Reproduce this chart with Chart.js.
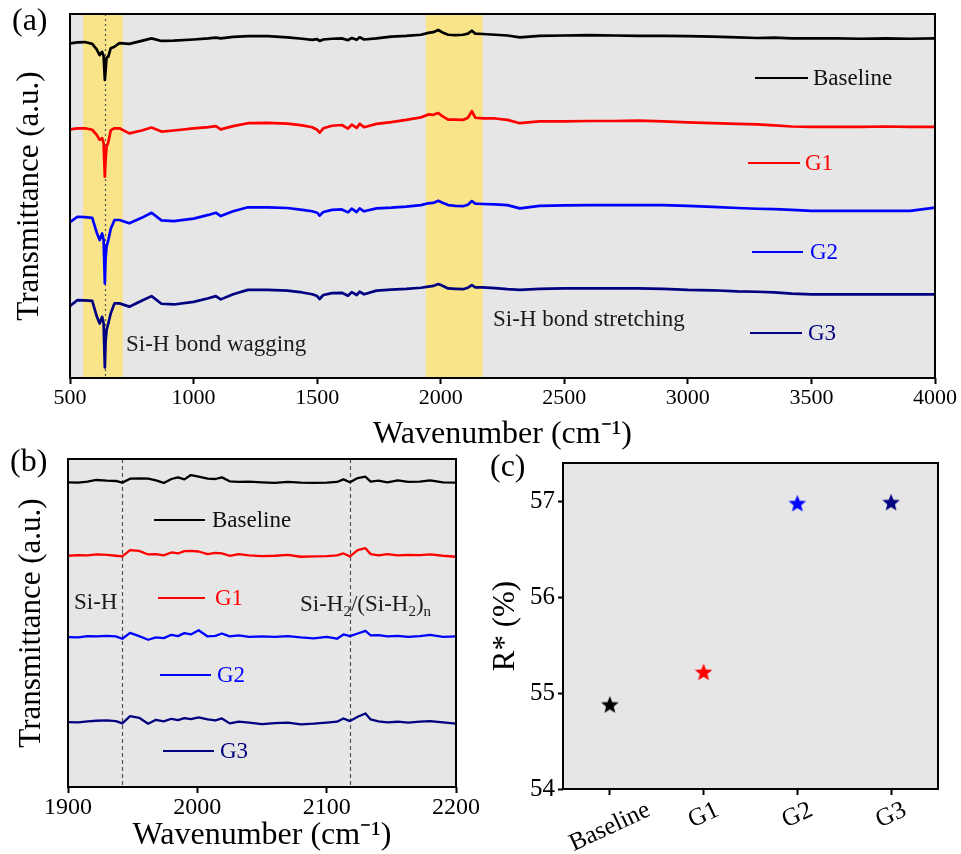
<!DOCTYPE html>
<html><head><meta charset="utf-8">
<script src="https://cdn.jsdelivr.net/npm/chart.js@4.4.0/dist/chart.umd.min.js"></script>
<style>
html,body{margin:0;padding:0;background:#fff;}
#wrap{position:relative;width:961px;height:854px;overflow:hidden;}
canvas{position:absolute;}
</style></head><body>
<div id="wrap">
<canvas id="ca" width="961" height="454" style="left:0;top:0"></canvas>
<canvas id="cb" width="480" height="409" style="left:0;top:445px"></canvas>
<canvas id="cc" width="481" height="409" style="left:480px;top:445px"></canvas>
</div>
<script>
// ---------- DATA ----------
const seriesNames = ['Baseline', 'G1', 'G2', 'G3'];

// Panel (a): full FTIR spectra (wavenumber, cm-1) – transmittance in arbitrary units (offset traces)
const wnA = [500,530,560,590,608,620,630,636,641,644,648,655,665,680,700,740,790,830,870,920,1000,1060,1090,1110,1160,1220,1300,1380,1440,1480,1500,1510,1525,1560,1600,1625,1640,1660,1672,1690,1740,1800,1860,1920,1950,1970,1990,2005,2030,2060,2090,2110,2126,2140,2170,2220,2270,2320,2400,2500,2600,2700,2800,2900,3000,3100,3200,3280,3350,3420,3500,3600,3700,3800,3900,4000];
const baselineA = [91.9,92.2,92.3,91.8,90.3,88.7,89.6,88.5,81.9,84.5,88.0,88.3,90.6,91.0,92.0,91.8,92.6,93.3,92.6,92.7,93.0,93.3,93.5,93.3,93.7,93.9,93.9,93.6,93.2,92.9,93.1,92.6,93.0,93.2,93.3,92.8,93.4,92.9,93.6,93.0,93.3,93.8,94.0,94.3,94.8,95.0,95.6,95.0,94.3,94.2,94.3,94.6,95.4,94.6,94.5,94.3,94.1,93.6,94.0,94.1,94.2,94.1,94.0,94.0,93.9,93.8,93.6,93.4,93.5,93.3,93.3,93.3,93.2,93.3,93.2,93.3];
const g1A = [68.3,68.6,68.6,68.2,66.8,65.4,65.9,64.5,55.3,60.0,63.5,64.8,68.1,68.6,68.6,67.2,68.0,68.8,67.7,68.0,68.6,68.9,69.2,68.3,69.2,70.0,70.1,69.9,69.4,68.9,68.2,67.4,68.6,69.3,69.5,68.5,69.6,68.7,69.8,68.9,69.8,70.3,70.9,71.6,72.4,72.3,72.8,72.0,71.0,71.0,70.9,71.5,73.3,71.5,71.3,71.3,70.9,70.0,70.5,70.5,70.6,70.6,70.7,70.5,70.2,70.0,69.8,69.7,69.4,69.1,69.0,69.0,69.0,69.1,69.0,69.0];
const g2A = [42.8,44.3,44.2,44.0,40.0,37.9,39.7,38.0,26.0,33.0,36.1,37.9,41.0,43.4,43.4,42.5,44.0,45.4,43.3,43.1,43.8,44.8,45.4,44.5,45.8,46.9,46.9,46.7,46.2,45.8,45.4,44.6,45.6,46.2,46.3,45.5,46.5,45.6,46.6,45.8,46.6,46.8,47.1,47.5,48.0,48.1,48.7,48.2,47.5,47.3,47.2,47.6,48.6,47.9,47.8,47.7,47.5,46.6,47.3,47.4,47.5,47.5,47.5,47.5,47.3,47.0,46.7,46.5,46.4,46.2,45.9,45.9,45.9,45.9,45.9,46.8];
const g3A = [19.8,21.4,21.3,21.2,17.0,15.0,16.8,15.0,2.9,10.0,13.2,15.0,17.8,20.5,20.5,19.6,21.2,22.5,20.4,20.2,20.9,21.9,22.5,21.6,23.0,24.2,24.2,24.0,23.5,23.0,22.5,21.7,22.8,23.3,23.4,22.6,23.6,22.8,23.7,23.0,24.0,24.3,24.5,24.8,25.1,25.3,25.8,25.4,24.6,24.5,24.4,24.8,25.5,24.9,24.9,24.7,24.4,24.2,24.5,24.6,24.6,24.6,24.6,24.5,24.2,24.1,23.8,23.7,23.5,23.2,23.0,23.0,23.0,23.0,23.0,23.0];
const tickA = [500,1000,1500,2000,2500,3000,3500,4000];
const bandsA = [[553,714],[1940,2170]];   // highlighted Si-H regions (cm-1)
const markA = [640];                        // dotted marker (cm-1)

// Panel (b): zoom 1900–2200 cm-1
const wnB = [1900,1908,1915,1922,1930,1937,1942,1948,1955,1962,1968,1974,1980,1985,1990,1995,2001,2008,2014,2019,2025,2032,2040,2050,2060,2070,2080,2090,2100,2108,2113,2118,2124,2130,2134,2140,2147,2155,2163,2172,2180,2190,2200];
const baselineB = [92.9,92.8,93.1,93.6,93.4,93.3,92.8,94.0,94.1,94.0,93.5,92.7,93.9,94.4,93.8,95.1,94.6,94.0,93.9,94.4,93.2,93.0,93.1,92.9,92.7,93.0,92.8,92.7,92.8,93.0,93.8,92.9,94.2,94.6,93.1,93.4,92.9,93.5,93.0,93.1,93.5,92.9,92.8];
const g1B = [70.5,70.7,70.6,70.9,70.8,70.5,70.3,72.2,72.0,70.9,71.0,70.6,71.5,71.2,71.9,72.0,71.8,71.0,71.4,71.2,70.5,71.0,70.6,70.4,70.5,70.8,70.2,70.3,70.4,70.6,71.2,70.3,72.2,72.8,71.0,70.6,71.0,70.6,70.8,70.7,70.9,70.5,70.2];
const g2B = [45.7,45.6,46.0,45.9,46.1,45.9,45.2,47.0,46.0,44.9,45.6,45.4,46.4,46.0,46.9,46.5,47.8,45.9,46.1,46.8,45.9,46.2,45.8,45.9,45.8,46.0,45.6,45.3,45.8,45.2,46.5,46.0,46.8,47.6,46.2,46.3,45.9,46.1,45.8,46.0,46.4,45.8,45.9];
const g3B = [19.8,19.7,20.0,20.2,20.3,20.1,19.4,21.6,21.1,19.3,20.5,20.0,20.8,20.4,21.0,20.7,21.2,20.6,20.3,20.9,19.4,19.9,19.6,19.2,19.5,19.6,19.1,19.3,19.6,19.9,20.9,20.1,21.4,22.4,20.6,20.0,19.7,19.9,19.6,19.9,20.1,19.7,19.3];
const tickB = [1900,2000,2100,2200];
const markB = [1942, 2118];

// Panel (c): R* (%)
const groupsC = ['Baseline', 'G1', 'G2', 'G3'];
const rStarC = [54.88, 55.22, 56.98, 56.99];
const tickC = [54, 55, 56, 57];

// ---------- STYLE ----------
const FONT = '"Liberation Serif", "Times New Roman", serif';
const seriesColors = ['#000000', '#ff0000', '#0000ff', '#000080'];
const textColors = ['#111111', '#ff0000', '#0000ff', '#000080'];
const PLOT_BG = '#e6e6e6';
const BAND = '#f9e48a';
Chart.defaults.font.family = FONT;
Chart.defaults.color = '#000';
function F(size) { return { family: FONT, size: size }; }

function pts(xs, ys) { return xs.map((x, i) => ({ x: x, y: ys[i] })); }

function drawSubText(ctx, parts, x, y, size) {
  let cx = x;
  parts.forEach(p => {
    const s = p[1] ? Math.round(size * 0.65) : size;
    ctx.font = s + 'px ' + FONT;
    ctx.fillText(p[0], cx, p[1] ? y + size * 0.32 : y);
    cx += ctx.measureText(p[0]).width;
  });
}

function panelPlugin(cfg) {
  return {
    id: 'panel' + cfg.name,
    beforeDraw(chart) {
      const { ctx, chartArea: a } = chart;
      ctx.save();
      ctx.fillStyle = PLOT_BG;
      ctx.fillRect(a.left, a.top, a.width, a.height);
      if (cfg.bands) {
        const xs = chart.scales.x;
        ctx.fillStyle = BAND;
        cfg.bands.forEach(b => {
          const x0 = xs.getPixelForValue(b[0]), x1 = xs.getPixelForValue(b[1]);
          ctx.fillRect(x0, a.top, x1 - x0, a.height);
        });
      }
      ctx.restore();
    },
    beforeDatasetsDraw(chart) {
      if (!cfg.marks) return;
      const { ctx, chartArea: a } = chart;
      const xs = chart.scales.x;
      ctx.save();
      ctx.strokeStyle = '#555';
      ctx.lineWidth = 1.2;
      ctx.setLineDash(cfg.dash || [3, 3]);
      cfg.marks.forEach(m => {
        const x = Math.round(xs.getPixelForValue(m)) + 0.5;
        ctx.beginPath(); ctx.moveTo(x, a.top); ctx.lineTo(x, a.bottom); ctx.stroke();
      });
      ctx.restore();
    },
    afterDraw(chart) {
      const { ctx, chartArea: a } = chart;
      ctx.save();
      ctx.strokeStyle = '#000';
      ctx.lineWidth = 2;
      ctx.strokeRect(a.left, a.top, a.width, a.height);
      ctx.textBaseline = 'middle';
      ctx.textAlign = 'left';
      (cfg.legend || []).forEach((e, i) => {
        ctx.strokeStyle = seriesColors[i];
        ctx.lineWidth = 2;
        ctx.beginPath(); ctx.moveTo(e[0], e[2]); ctx.lineTo(e[1], e[2]); ctx.stroke();
        ctx.fillStyle = textColors[i];
        ctx.font = cfg.legendSize + 'px ' + FONT;
        ctx.fillText(seriesNames[i], e[3], e[2] + 1);
      });
      ctx.fillStyle = '#1a1a1a';
      (cfg.notes || []).forEach(n => {
        drawSubText(ctx, n.parts, n.x, n.y, n.size);
      });
      ctx.fillStyle = '#000';
      ctx.font = '32px ' + FONT;
      ctx.fillText(cfg.letter[0], cfg.letter[1], cfg.letter[2]);
      if (cfg.rotLabels) {
        const xs = chart.scales.x;
        ctx.font = '25px ' + FONT;
        ctx.textAlign = 'center';
        ctx.textBaseline = 'middle';
        const ang = 25 * Math.PI / 180;
        cfg.rotLabels.forEach((lab, i) => {
          const x = xs.getPixelForValue(i);
          const w = ctx.measureText(lab).width;
          const h = 22;
          const bh = w * Math.sin(ang) + h * Math.cos(ang);
          const cy = a.bottom + 10 + bh / 2;
          ctx.save();
          ctx.translate(x, cy);
          ctx.rotate(-ang);
          ctx.fillText(lab, 0, 0);
          ctx.restore();
        });
      }
      ctx.restore();
    }
  };
}

function lineDs(label, data, color, w) {
  return { label, data, borderColor: color, backgroundColor: color, borderWidth: w, pointRadius: 0, tension: 0, fill: false, borderJoinStyle: 'round' };
}

const common = { responsive: false, maintainAspectRatio: false, animation: false, devicePixelRatio: 1,
  plugins: { legend: { display: false }, tooltip: { enabled: false } }, events: [] };

// ---------- Panel (a) ----------
new Chart(document.getElementById('ca'), {
  type: 'line',
  data: { datasets: [
    lineDs('Baseline', pts(wnA, baselineA), seriesColors[0], 2.7),
    lineDs('G1', pts(wnA, g1A), seriesColors[1], 2.7),
    lineDs('G2', pts(wnA, g2A), seriesColors[2], 2.7),
    lineDs('G3', pts(wnA, g3A), seriesColors[3], 2.7)
  ] },
  options: Object.assign({}, common, {
    layout: { padding: { left: 0, top: 14, right: 26, bottom: 0 } },
    scales: {
      x: { type: 'linear', min: 500, max: 4000,
        afterBuildTicks: s => { s.ticks = tickA.map(v => ({ value: v })); },
        afterFit: s => { s.height = 76; },
        ticks: { callback: v => String(v), font: F(22), color: '#000', padding: 1, maxRotation: 0 },
        grid: { display: true, drawOnChartArea: false, drawTicks: true, tickLength: 6, tickColor: '#000', tickWidth: 2 },
        border: { display: false },
        title: { display: true, text: 'Wavenumber (cm\u207B\u00B9)', font: F(32), color: '#000', padding: { top: 0, bottom: 0 } } },
      y: { min: 0, max: 100,
        afterFit: s => { s.width = 70; },
        ticks: { display: false }, grid: { display: false }, border: { display: false },
        title: { display: true, text: 'Transmittance (a.u.)', font: F(31), color: '#000', padding: { top: 11, bottom: 0 } } }
    }
  }),
  plugins: [panelPlugin({ name: 'a', bands: bandsA, marks: markA, dash: [2, 3],
    legend: [[755, 808, 78, 813], [748, 800, 163, 805], [752, 803, 252, 810], [750, 802, 333, 808]], legendSize: 23,
    notes: [ { parts: [['Si-H bond wagging', false]], x: 126, y: 345, size: 23 },
             { parts: [['Si-H bond stretching', false]], x: 493, y: 320, size: 23 } ],
    letter: ['(a)', 12, 22] })]
});

// ---------- Panel (b) ----------
new Chart(document.getElementById('cb'), {
  type: 'line',
  data: { datasets: [
    lineDs('Baseline', pts(wnB, baselineB), seriesColors[0], 2.3),
    lineDs('G1', pts(wnB, g1B), seriesColors[1], 2.3),
    lineDs('G2', pts(wnB, g2B), seriesColors[2], 2.3),
    lineDs('G3', pts(wnB, g3B), seriesColors[3], 2.3)
  ] },
  options: Object.assign({}, common, {
    layout: { padding: { left: 0, top: 14, right: 18, bottom: 0 } },
    scales: {
      x: { type: 'linear', min: 1900, max: 2200,
        afterBuildTicks: s => { s.ticks = tickB.map(v => ({ value: v })); },
        afterFit: s => { s.height = 67; },
        ticks: { callback: v => String(v), font: F(24), color: '#000', padding: 0, maxRotation: 0 },
        grid: { display: true, drawOnChartArea: false, drawTicks: true, tickLength: 6, tickColor: '#000', tickWidth: 2 },
        border: { display: false },
        title: { display: true, text: 'Wavenumber (cm\u207B\u00B9)', font: F(32), color: '#000', padding: { top: 0, bottom: -1 } } },
      y: { min: 0, max: 100,
        afterFit: s => { s.width = 68; },
        ticks: { display: false }, grid: { display: false }, border: { display: false },
        title: { display: true, text: 'Transmittance (a.u.)', font: F(31), color: '#000', padding: { top: 13, bottom: 0 } } }
    }
  }),
  plugins: [panelPlugin({ name: 'b', marks: markB, dash: [4, 3],
    legend: [[154, 205, 75, 212], [158, 205, 153, 215], [160, 211, 230, 217], [163, 214, 306, 220]], legendSize: 23,
    notes: [ { parts: [['Si-H', false]], x: 74, y: 158, size: 23 },
             { parts: [['Si-H', false], ['2', true], ['/(Si-H', false], ['2', true], [')', false], ['n', true]], x: 300, y: 160, size: 23 } ],
    letter: ['(b)', 10, 18] })]
});

// ---------- Panel (c) ----------
function starImage(color) {
  const c = document.createElement('canvas');
  c.width = 20; c.height = 20;
  const g = c.getContext('2d');
  const R = 9.2, r = 4.0;
  g.beginPath();
  for (let k = 0; k < 10; k++) {
    const rad = k % 2 === 0 ? R : r;
    const ang = -Math.PI / 2 + k * Math.PI / 5;
    const px = 10 + rad * Math.cos(ang), py = 10.7 + rad * Math.sin(ang);
    if (k === 0) g.moveTo(px, py); else g.lineTo(px, py);
  }
  g.closePath();
  g.fillStyle = color;
  g.fill();
  return c;
}
const stars = seriesColors.map(starImage);

new Chart(document.getElementById('cc'), {
  type: 'line',
  data: { labels: groupsC, datasets: [{
    label: 'R*', data: rStarC, showLine: false,
    pointStyle: stars, pointRadius: 9, pointHoverRadius: 9,
    borderColor: seriesColors, backgroundColor: seriesColors
  }] },
  options: Object.assign({}, common, {
    layout: { padding: { left: 0, top: 18, right: 23, bottom: 0 } },
    scales: {
      x: { type: 'category', offset: true,
        afterFit: s => { s.height = 65; },
        ticks: { color: 'rgba(0,0,0,0)', font: F(25), autoSkip: false, maxRotation: 0, minRotation: 0 },
        grid: { display: true, offset: false, drawOnChartArea: false, drawTicks: true, tickLength: 6, tickColor: '#000', tickWidth: 2 },
        border: { display: false } },
      y: { min: 54, max: 57.4,
        afterBuildTicks: s => { s.ticks = tickC.map(v => ({ value: v })); },
        afterFit: s => { s.width = 83; },
        ticks: { callback: v => String(v), font: F(25), color: '#000', padding: 3 },
        grid: { display: true, drawOnChartArea: false, drawTicks: true, tickLength: 5, tickColor: '#000', tickWidth: 2 },
        border: { display: false },
        title: { display: true, text: 'R* (%)', font: F(31), color: '#000', padding: { top: 7, bottom: 0 } } }
    }
  }),
  plugins: [panelPlugin({ name: 'c', letter: ['(c)', 10, 23], rotLabels: groupsC })]
});
</script>
</body></html>
